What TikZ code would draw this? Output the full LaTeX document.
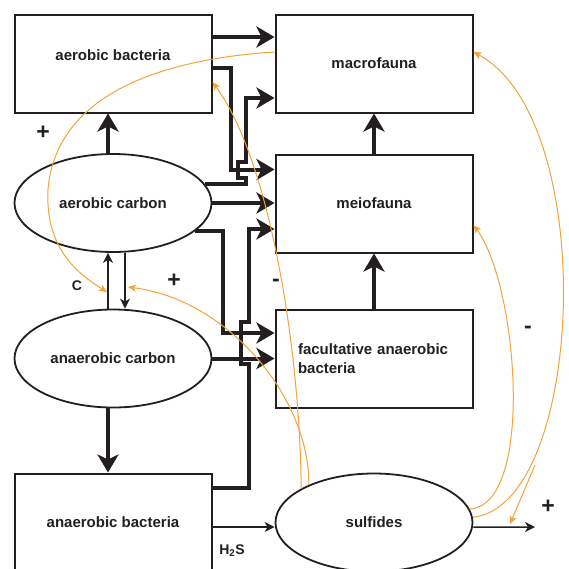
\documentclass[tikz,border=0pt]{standalone}
\usepackage{fontspec}
\setmainfont{Liberation Sans}
\usetikzlibrary{shapes.geometric,arrows.meta}
\definecolor{ink}{RGB}{35,31,32}
\definecolor{feedback}{RGB}{242,163,58}

\begin{document}
\begin{tikzpicture}[x=10pt,y=10pt,color=ink]
  \tikzset{box/.style={draw,rectangle,line width=2pt,minimum width=197pt,minimum height=98pt,inner sep=0pt,font=\bfseries\fontsize{15}{19}\selectfont}}
  \tikzset{pool/.style={box,ellipse,line width=1.8pt}}
  \tikzset{flow/.style={-{Stealth[length=18pt,width=21pt,inset=5pt]},line width=4pt}}
  \tikzset{link/.style={-{Stealth[length=10pt,width=10pt,inset=3pt]},line width=1.5pt}}
  \tikzset{effect/.style={-{Stealth[length=8pt,width=7pt,inset=2pt]},color=feedback,line width=1pt}}
  \tikzset{sign/.style={font=\bfseries\fontsize{23}{25}\selectfont}}
  \tikzset{note/.style={font=\bfseries\fontsize{14}{16}\selectfont}}
  \clip (0,0) rectangle (56.9,-56.8);
  \node[box,text depth=17pt] (aerobact) at (11.3,-6.35) {aerobic bacteria};
  \node[box] (macro) at (37.4,-6.35) {macrofauna};
  \node[box] (meio) at (37.4,-20.35) {meiofauna};
  \node[box,text width=152pt,align=left] (facult) at (37.4,-35.9) {facultative anaerobic\\bacteria};
  \node[pool] (aerocarb) at (11.3,-20.3) {aerobic carbon};
  \node[pool] (anaerocarb) at (11.3,-35.85) {anaerobic carbon};
  \node[box] (anaerobact) at (11.3,-52.25) {anaerobic bacteria};
  \node[pool] (sulf) at (37.4,-52.25) {sulfides};
  \coordinate (sulfout) at (53.5,-52.7);
  \coordinate (carbA) at (10.7,-29.2);
  \coordinate (carbB) at (12.8,-28.7);
  \coordinate (hintA) at (53.5,-46.5);
  \coordinate (hintB) at (51,-52.4);
  \draw[flow] ([yshift=26.5pt]aerobact.east) -- ([yshift=26.5pt]macro.west);
  \draw[flow] ([yshift=-4.5pt]aerobact.east) -- ++(18pt,0) |- ([yshift=34pt]meio.west);
  \draw[flow] (aerocarb.12) -- ++(41pt,0) -- ++(0,6pt) -- ++(-8pt,0) -- ++(0,16pt) -- ++(8pt,0) |- ([yshift=-34.5pt]macro.west);
  \draw[flow] (aerocarb.east) -- (aerocarb.east -| meio.west);
  \draw[flow] (aerocarb.-19) -- ++(28pt,0) |- ([yshift=26pt]facult.west);
  \draw[flow] ([yshift=34.5pt]anaerobact.east) -- ++(36pt,0) -- ++(0,124pt) -- ++(-8pt,0) -- ++(0,42pt) -- ++(8pt,0) |- ([yshift=-25.5pt]meio.west);
  \draw[flow] (anaerocarb.east) -- (anaerocarb.east -| facult.west);
  \draw[flow] ([xshift=-5pt]aerocarb.north) -- ([xshift=-5pt]aerobact.south);
  \draw[flow] (meio) -- (macro);
  \draw[flow] (facult) -- (meio);
  \draw[flow] ([xshift=-5pt]anaerocarb.south) -- ([xshift=-5pt]anaerobact.north);
  \draw[link] ([xshift=-5pt]anaerocarb.north) -- ([xshift=-5pt]aerocarb.south);
  \draw[link] ([xshift=12pt]aerocarb.south) -- ([xshift=12pt]anaerocarb.north);
  \draw[link] ([yshift=-4.5pt]anaerobact.east) -- ([yshift=-4.5pt]sulf.west);
  \draw[link] ([yshift=-4.5pt]sulf.east) -- (sulfout);
  \draw[effect] ([yshift=11.5pt]macro.west) .. controls (15,-6) and (5.5,-10) .. (4.8,-19) .. controls (4.5,-25) and (8,-27.5) .. (carbA);
  \draw[effect] (sulf.155) .. controls (30,-35) and (27,-16) .. ([yshift=-18.5pt]aerobact.east);
  \draw[effect] (sulf.150) .. controls (31,-40) and (23,-30) .. (carbB);
  \draw[effect] (sulf.8) .. controls (53.5,-50.5) and (51.8,-28.5) .. ([yshift=-21.5pt]meio.east);
  \draw[effect] (sulf.3) .. controls (58.5,-50.5) and (60,-12) .. ([yshift=11.5pt]macro.east);
  \draw[effect] (hintA) -- (hintB);
  \node[sign] (plusbact) at (4.3,-13.3) {+};
  \node[note] (carbc) at (7.7,-28.6) {C};
  \node[sign] (pluscarb) at (17.4,-28.1) {+};
  \node[sign] (minusfac) at (27.6,-28.3) {-};
  \node[sign] (minusmeio) at (52.8,-33) {-};
  \node[sign] (plussulf) at (54.8,-50.7) {+};
  \node[note] (hsulf) at (23.2,-55.1) {H\textsubscript{2}S};
\end{tikzpicture}
\end{document}
